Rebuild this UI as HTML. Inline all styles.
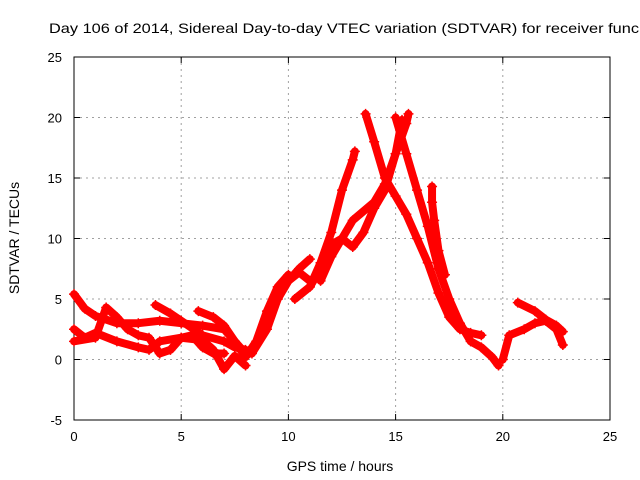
<!DOCTYPE html>
<html><head><meta charset="utf-8"><style>body{margin:0;background:#fff;overflow:hidden}svg{display:block;font-family:"Liberation Sans",sans-serif}</style></head>
<body>
<svg id="chart" width="640" height="480" viewBox="0 0 640 480">
<text x="49" y="33" font-size="14" textLength="590" lengthAdjust="spacingAndGlyphs" fill="#000">Day 106 of 2014, Sidereal Day-to-day VTEC variation (SDTVAR) for receiver func</text>
<g id="grid"></g><g id="axes"></g><g id="series" fill="none" stroke="#f00"></g>
<text x="340" y="471" font-size="14" text-anchor="middle">GPS time / hours</text>
<text transform="translate(19,238) rotate(-90)" font-size="14" text-anchor="middle">SDTVAR / TECUs</text>
</svg>
<script>
const xTicks=[0,5,10,15,20,25];
const yTicks=[-5,0,5,10,15,20,25];
const s1=[[0,5.4],[0.5,4.2],[1,3.6],[2,3.0],[3,3.0],[4,3.2],[5,3.0],[6,2.8],[7,2.5],[7.5,1.5],[8,0.5],[8.5,1.2],[9,3],[9.5,5],[10,6.5],[10.5,7.2],[11,6.5]];
const s2=[[0,2.5],[0.5,1.8],[1,2.2],[2,1.5],[3,1.0],[3.5,0.8],[4,1.5],[5,1.8],[6,1.6],[6.5,0.8],[7,-0.8],[7.5,0.3],[8,-0.5]];
const s3=[[0,1.5],[1,1.8],[1.5,4.3],[2,3.5],[2.5,2.5],[3,2],[3.5,1.8],[4,0.5],[4.5,0.8],[5,1.8],[5.5,2],[6,1.0],[6.5,0.5],[7,0.5]];
const s4=[[3.8,4.5],[4.5,3.8],[5,3.2],[6,2.0],[7,1.5],[7.5,1],[8,0.8]];
const s5=[[5.8,4],[6.5,3.5],[7,2.8],[7.5,1.5],[8,0.2],[8.5,1.5],[9,4],[9.5,6],[10,7]];
const r1=[[8.3,0.5],[9,2.5],[9.5,5],[10,6.5],[10.5,7.5],[11,8.3]];
const r2=[[10.3,5],[11,6],[11.5,8],[12,10.5],[12.5,14],[13,16.5],[13.1,17.2]];
const r3=[[11,6],[11.5,7.5],[12,9.5],[12.5,10],[13,9.3],[13.5,10.5],[14,12.5],[14.5,14],[15,17],[15.5,19.5],[15.6,20.3]];
const r4=[[11.5,6.5],[12,8.5],[12.5,10],[13,11.5],[14,13],[14.5,14.5],[15,17],[15.3,19.8]];
const f1=[[13.6,20.3],[14,18],[14.5,15],[15,13.5],[15.5,12],[16,10],[16.5,8],[17,5.5],[17.5,3.5],[18,2.5],[18.5,2.2],[19,2]];
const f2=[[15,20],[15.5,17],[16,14],[16.5,11],[17,7.5],[17.5,5],[18,3],[18.5,1.5],[19,1],[19.5,0.2],[19.8,-0.5]];
const f3=[[16.7,14.3],[16.7,13],[16.8,11.5],[17,9],[17.3,7]];
const f4=[[20,0],[20.3,2],[21,2.5],[21.5,3],[22,3.2],[22.5,2.5],[22.8,1.2]];
const f5=[[20.7,4.7],[21.5,4],[22,3.3],[22.5,2.8],[22.8,2.3]];
const allSeries=[s1,s2,s3,s4,s5,r1,r2,r3,r4,f1,f2,f3,f4,f5];
const X0=74,X1=610,Y0=420,Y1=57;
const xs=t=>X0+(t-0)/25*(X1-X0);
const ys=v=>Y0-(v+5)/30*(Y0-Y1);
const NS="http://www.w3.org/2000/svg";
function mk(tag,parent,attrs){const e=document.createElementNS(NS,tag);for(const k in attrs)e.setAttribute(k,attrs[k]);parent.appendChild(e);return e;}
const grid=document.getElementById('grid'),axes=document.getElementById('axes'),ser=document.getElementById('series');
mk('rect',axes,{x:X0,y:Y1,width:X1-X0,height:Y0-Y1,fill:'none',stroke:'#000'});
xTicks.forEach(t=>{const x=xs(t);
 if(t>0&&t<25){const g=mk('line',grid,{x1:x,x2:x,y1:Y1,y2:Y0,stroke:'#a0a0a0','stroke-dasharray':'2,4'});}
 mk('line',axes,{x1:x,x2:x,y1:Y0,y2:Y0-6,stroke:'#000'});mk('line',axes,{x1:x,x2:x,y1:Y1,y2:Y1+6,stroke:'#000'});
 const l=mk('text',axes,{x:x,y:Y0+21,'font-size':13,'text-anchor':'middle'});l.textContent=t;
 });
yTicks.forEach(v=>{const y=ys(v);
 if(v>-5&&v<25){const g=mk('line',grid,{x1:X0,x2:X1,y1:y,y2:y,stroke:'#a0a0a0','stroke-dasharray':'2,4'});}
 mk('line',axes,{x1:X0,x2:X0+6,y1:y,y2:y,stroke:'#000'});mk('line',axes,{x1:X1,x2:X1-6,y1:y,y2:y,stroke:'#000'});
 const l=mk('text',axes,{x:X0-12,y:y+5,'font-size':13,'text-anchor':'end'});l.textContent=v;
 });
allSeries.forEach((s,i)=>{
 const p=mk('polyline',ser,{points:s.map(d=>xs(d[0])+','+ys(d[1])).join(' '),'stroke-width':8,'stroke-linejoin':'round','stroke-linecap':'round'});
 
 
 s.forEach(d=>{const x=xs(d[0]),y=ys(d[1]);
  const m=mk('path',ser,{d:`M${x-5},${y}H${x+5}M${x},${y-5}V${y+5}`,'stroke-width':1.5});
  
  });
});
</script>
</body></html>
